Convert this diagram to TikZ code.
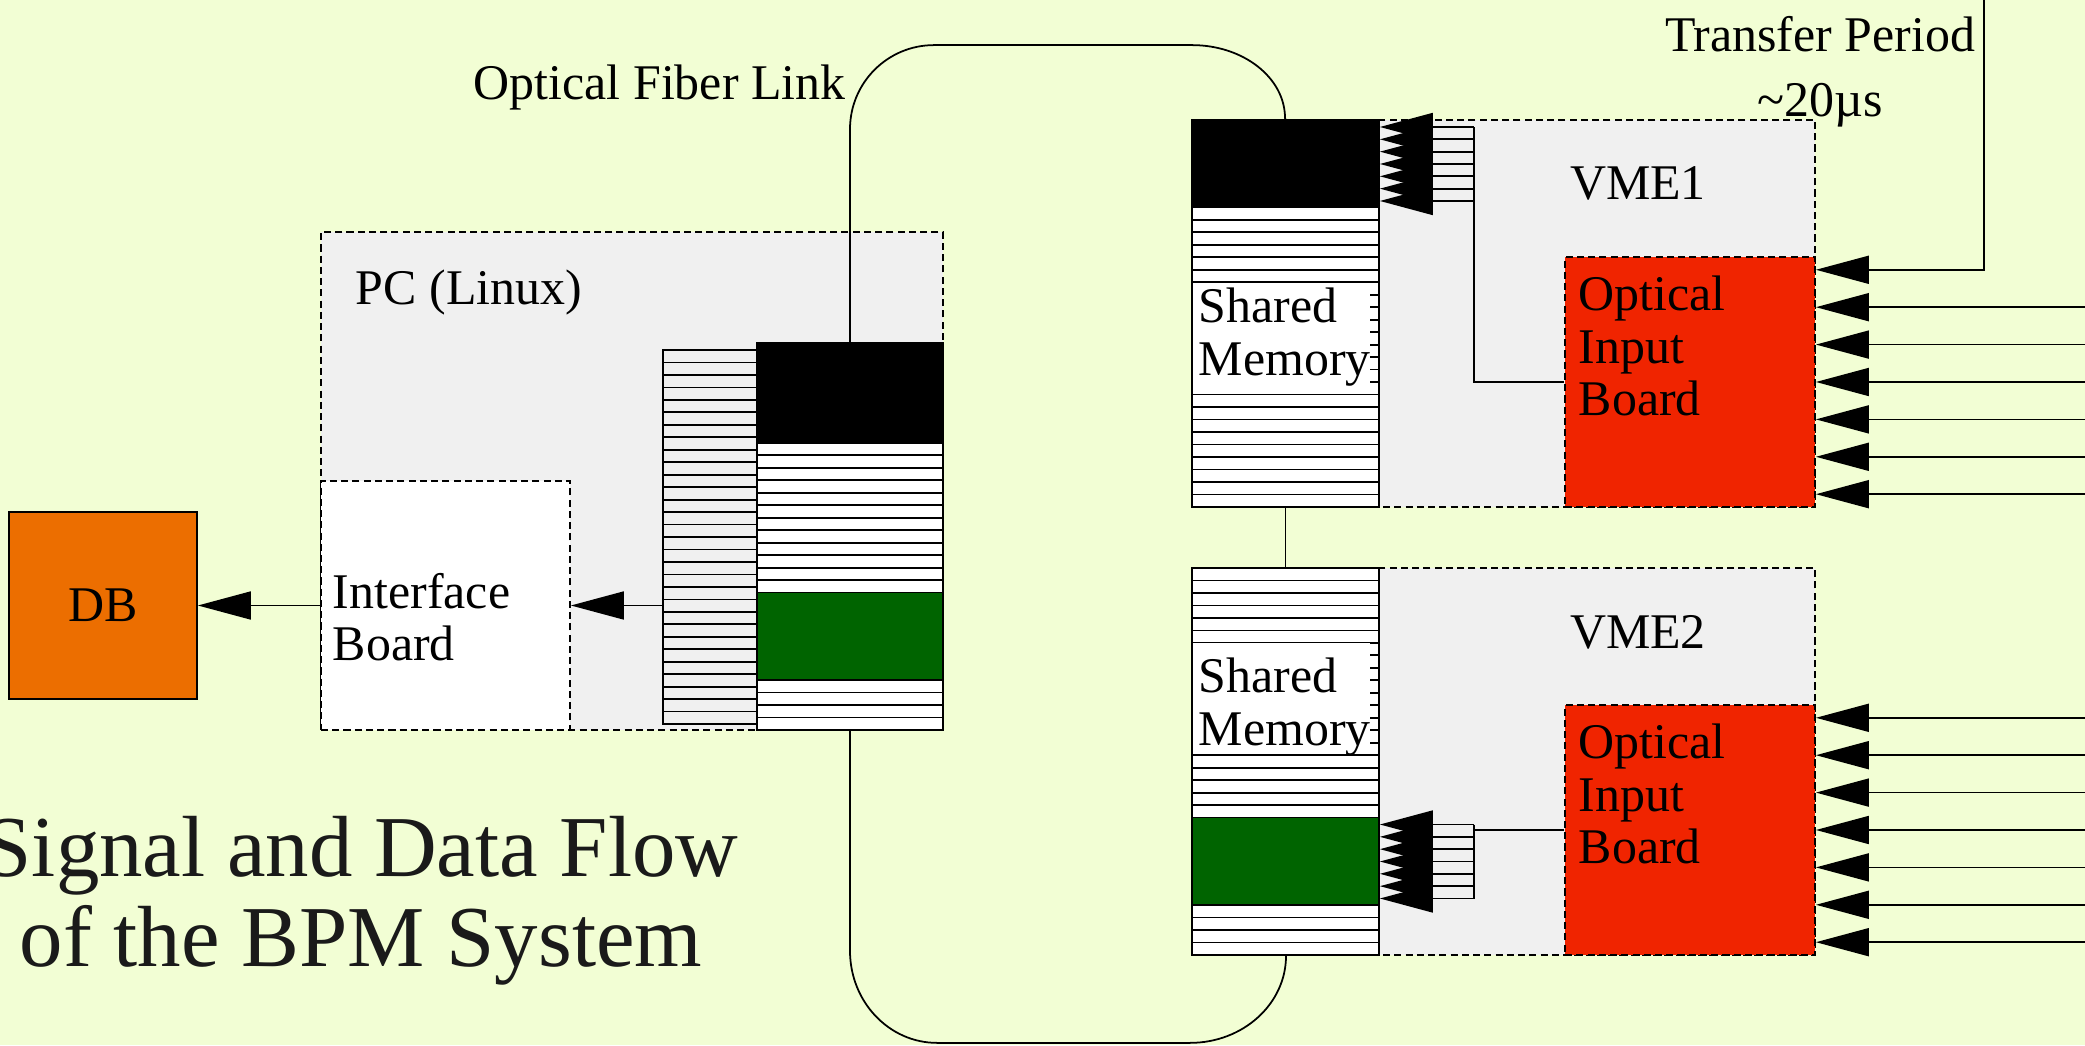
\documentclass[tikz,border=0pt]{standalone}
\usepackage{fontspec}
\setmainfont{Liberation Serif}
\usetikzlibrary{arrows.meta}
\definecolor{paper}{RGB}{242,254,212}
\definecolor{boxgray}{RGB}{240,240,240}
\definecolor{dborange}{RGB}{236,110,0}
\definecolor{boardred}{RGB}{240,36,0}
\definecolor{memgreen}{RGB}{0,100,0}
\definecolor{titlegray}{RGB}{26,26,26}
\tikzset{
  unit/.style={draw, dash pattern=on 2pt off 1.2pt, fill=boxgray},
  sig/.style={-{Triangle[length=5.3mm,width=2.8mm]}},
}
\begin{document}
\begin{tikzpicture}[line width=0.5pt, every node/.style={inner sep=0pt}, font=\fontsize{14.2}{15}\selectfont]

	% фон
	\fill[paper] (0,0) rectangle (20.85,10.45);
	\useasboundingbox (0,0) rectangle (20.85,10.45);

	% база даних
	\node[draw, fill=dborange, minimum width=1.88cm, minimum height=1.87cm] (db) at (1.03,4.395) {DB};

	% ПК
	\node[unit, minimum width=6.22cm, minimum height=4.98cm] (pc) at (6.32,5.64) {};
	\node[anchor=base west] (pclabel) at (3.55,7.40) {PC (Linux)};
	\node[unit, fill=white, minimum width=2.49cm, minimum height=2.49cm] (iface) at (4.455,4.395) {};
	\node[anchor=north west, align=left] (ifacelabel) at (3.32,4.73) {Interface\\Board};

	% буфер
	\node[draw, fill=boxgray, minimum width=0.94cm, minimum height=3.74cm] (buf) at (7.10,5.08) {};
	\foreach \i in {1,...,29}
	\draw (6.63,6.95-0.1247*\i) -- (7.57,6.95-0.1247*\i);

	% пам'ять ПК
	\node[draw, fill=white, minimum width=1.86cm, minimum height=3.87cm] (pcmem) at (8.50,5.085) {};
	\foreach \i in {1,...,30}
	\draw (7.57,7.02-0.1248*\i) -- (9.43,7.02-0.1248*\i);
	\fill[black] (7.57,7.02) rectangle (9.43,6.0216);
	\filldraw[fill=memgreen] (7.57,4.524) rectangle (9.43,3.6504);

	\draw[sig] (buf.west |- iface.east) -- (iface.east);
	\draw[sig] (iface.west) -- (db.east);

	% VME1
	\node[unit, minimum width=6.23cm, minimum height=3.87cm] (vme1) at (15.035,7.315) {};
	\node[anchor=base] (vme1label) at (16.38,8.45) {VME1};
	\node[draw, fill=white, minimum width=1.87cm, minimum height=3.87cm] (mem1) at (12.855,7.315) {};
	\foreach \i in {1,...,30}
	\draw (11.92,9.25-0.1248*\i) -- (13.79,9.25-0.1248*\i);
	\fill[black] (11.92,9.25) rectangle (13.79,8.3764);
	\fill[white] (11.93,7.62) rectangle (13.70,6.51);
	\draw[dash pattern=on 2pt off 1.2pt] (11.92,7.62) -- (11.92,6.51);
	\node[anchor=north west, align=left] (mem1label) at (11.98,7.58) {Shared\\Memory};

	\node[unit, fill=boardred, minimum width=2.5cm, minimum height=2.5cm] (oib1) at (16.90,6.63) {};
	\node[anchor=north west, align=left] (oib1label) at (15.78,7.70) {Optical\\Input\\Board};

	% шина VME1
	\coordinate (tip1) at (mem1.east |- 0,8.81);
	\coordinate (bus1) at ([xshift=0.94cm]tip1);
	\foreach \k in {-3,...,3}
	\draw[sig] ([shift={(0.94,0.1233*\k)}]tip1) -- ([shift={(0,0.1233*\k)}]tip1);
	\draw (oib1.west) -| ([yshift=3.7mm]bus1);

	% входи VME1
	\coordinate (clk) at (19.84,10.45);
	\draw[sig] (clk) |- ([yshift=11.22mm]oib1.east);
	\foreach \k in {-2,...,3}
	\draw[sig] ([shift={(2.7,-0.374*\k)}]oib1.east) -- ([shift={(0,-0.374*\k)}]oib1.east);
	\node[anchor=base] (period) at (18.20,9.93) {Transfer Period};
	\node[anchor=base] (periodval) at (18.20,9.28) {\textasciitilde20µs};

	% VME2
	\node[unit, minimum width=6.23cm, minimum height=3.87cm] (vme2) at (15.035,2.835) {};
	\node[anchor=base] (vme2label) at (16.38,3.96) {VME2};
	\node[draw, fill=white, minimum width=1.87cm, minimum height=3.87cm] (mem2) at (12.855,2.835) {};
	\foreach \i in {1,...,30}
	\draw (11.92,4.77-0.1248*\i) -- (13.79,4.77-0.1248*\i);
	\filldraw[fill=memgreen] (11.92,2.274) rectangle (13.79,1.4004);
	\fill[white] (11.93,4.015) rectangle (13.70,2.905);
	\draw[dash pattern=on 2pt off 1.2pt] (11.92,4.015) -- (11.92,2.905);
	\node[anchor=north west, align=left] (mem2label) at (11.98,3.88) {Shared\\Memory};

	\node[unit, fill=boardred, minimum width=2.5cm, minimum height=2.5cm] (oib2) at (16.90,2.15) {};
	\node[anchor=north west, align=left] (oib2label) at (15.78,3.22) {Optical\\Input\\Board};

	% шина VME2
	\coordinate (tip2) at (mem2.east |- 0,1.835);
	\coordinate (bus2) at ([xshift=0.94cm]tip2);
	\foreach \k in {-3,...,3}
	\draw[sig] ([shift={(0.94,0.1233*\k)}]tip2) -- ([shift={(0,0.1233*\k)}]tip2);
	\draw ([yshift=3.7mm]bus2) -- ([yshift=-3.7mm]bus2);
	\draw (oib2.west) -- (oib2.west -| bus2);

	% входи VME2
	\foreach \k in {-3,...,3}
	\draw[sig] ([shift={(2.7,-0.374*\k)}]oib2.east) -- ([shift={(0,-0.374*\k)}]oib2.east);

	% оптичний зв'язок
	\draw (pcmem.north) -- ++(0,2.13) arc[start angle=180,end angle=90,radius=0.84]
		-- ++(2.58,0) arc[start angle=90,end angle=0,x radius=0.93,y radius=0.73] -- (mem1.north);
	\draw (pcmem.south) -- ++(0,-2.20) arc[start angle=180,end angle=270,x radius=0.87,y radius=0.92]
		-- ++(2.53,0) arc[start angle=270,end angle=360,x radius=0.96,y radius=0.87] -- (mem2.south);
	\draw (mem1.south) -- (mem2.north);
	\node[anchor=base west] (fiberlabel) at (4.73,9.45) {Optical Fiber Link};

	% назва
	\node[anchor=north, align=center, text=titlegray, font=\fontsize{24.7}{25.6}\selectfont] (title) at (3.61,2.30) {Signal and Data Flow\\of the BPM System};
\end{tikzpicture}
\end{document}
